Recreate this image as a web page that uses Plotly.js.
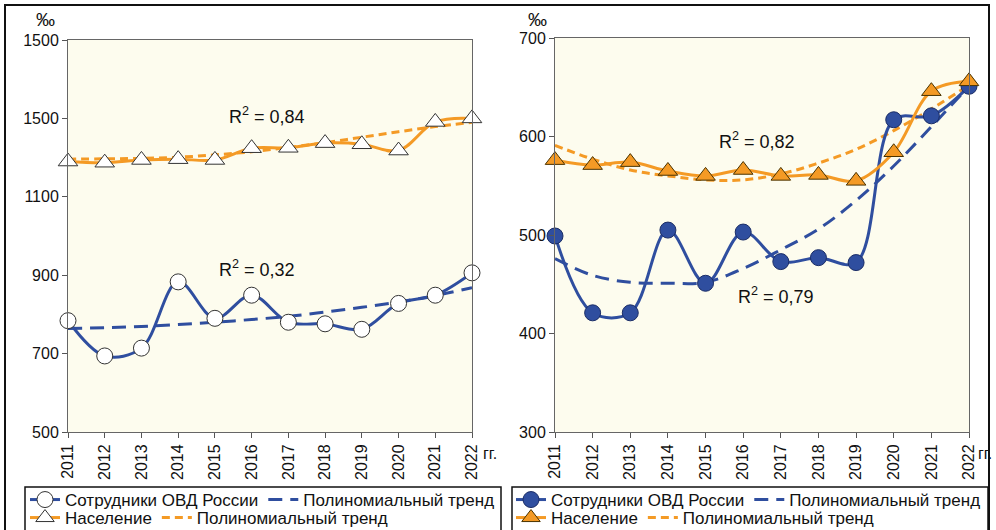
<!DOCTYPE html>
<html><head><meta charset="utf-8">
<script src="https://cdn.plot.ly/plotly-3.0.1.min.js"></script>
<style>html,body{margin:0;padding:0;background:#fff}#chart{width:996px;height:530px}</style>
</head><body><div id="chart"></div>
<script>
const years = [2011,2012,2013,2014,2015,2016,2017,2018,2019,2020,2021,2022];
// Left panel
const leftStaff      = [784,694,714,883,790,849,780,776,762,828,849,906];
const leftStaffTrend = [764,766,769,774,780,787,795,806,818,832,848,868];
const leftPop        = [1190,1187,1194,1196,1194,1224,1225,1237,1234,1218,1291,1300];
const leftPopTrend   = [1196,1197,1198,1201,1207,1215,1226,1238,1252,1266,1279,1290];
const leftTickVals   = [500,700,900,1100,1300,1500];
const leftTickText   = ['500','700','900','1100','1500','1500'];
// Right panel
const rightStaff      = [499,421,421,505,451,503,473,477,472,617,621,651];
const rightStaffTrend = [476,459,452,451,452,466,485,506,535,570,610,651];
const rightPop        = [576,571,574,565,560,566,560,561,555,584,646,656];
const rightPopTrend   = [591,577,566,560,556,556,562,573,587,606,628,652];
const rightTickVals   = [300,400,500,600,700];

const staffName = 'Сотрудники ОВД России';
const popName = 'Население';
const trendName = 'Полиномиальный тренд';

const BLUE = '#2f4e9f';
const ORANGE = '#f49a25';
const W = 996, H = 530;
const px = v => v / W;
const py = v => (H - v) / H;

function trend(y, xa, ya, color, dash, leg) {
  return {x: years, y: y, xaxis: xa, yaxis: ya, mode: 'lines', name: trendName, legendrank: 2,
    line: {color: color, width: 3, dash: dash, shape: 'spline'}, legend: leg, hoverinfo: 'skip'};
}
function series(y, xa, ya, color, marker, leg, name) {
  return {x: years, y: y, xaxis: xa, yaxis: ya, mode: 'lines+markers', name: name, legendrank: 1,
    line: {color: color, width: 3, shape: 'spline', smoothing: 1}, marker: marker,
    legend: leg, cliponaxis: false};
}

const data = [
  trend(leftStaffTrend, 'x', 'y', BLUE, '14px,8px', 'legend'),
  trend(leftPopTrend, 'x', 'y', ORANGE, '8px,5px', 'legend3'),
  series(leftStaff, 'x', 'y', BLUE, {symbol: 'circle', size: 16, color: '#ffffff', line: {color: '#333', width: 1}}, 'legend', staffName),
  series(leftPop, 'x', 'y', ORANGE, {symbol: 'triangle-up', size: 17, color: '#ffffff', line: {color: '#333', width: 1}}, 'legend3', popName),
  trend(rightStaffTrend, 'x2', 'y2', BLUE, '14px,8px', 'legend2'),
  trend(rightPopTrend, 'x2', 'y2', ORANGE, '8px,5px', 'legend4'),
  series(rightStaff, 'x2', 'y2', BLUE, {symbol: 'circle', size: 16, color: BLUE, line: {color: '#1b2d66', width: 1}}, 'legend2', staffName),
  series(rightPop, 'x2', 'y2', ORANGE, {symbol: 'triangle-up', size: 17, color: ORANGE, line: {color: '#4a3300', width: 1}}, 'legend4', popName)
];

const FAM = 'Liberation Sans, Arial, sans-serif';
const axFont = {family: FAM, size: 16, color: '#111'};
function xaxis(domain, anchor) {
  return {domain: domain, anchor: anchor, range: [2011, 2022], tickmode: 'array', tickvals: years,
    ticktext: years.map(String), tickangle: -90, ticks: 'outside', ticklen: 5, tickcolor: '#555',
    showline: true, linecolor: '#666', linewidth: 1, mirror: true, showgrid: false, zeroline: false,
    tickfont: axFont, fixedrange: true, automargin: false};
}
function yaxis(domain, anchor, range, vals, text) {
  return {domain: domain, anchor: anchor, range: range, tickmode: 'array', tickvals: vals, ticktext: text,
    ticks: 'outside', ticklen: 5, tickcolor: '#555', showline: true, linecolor: '#666', linewidth: 1,
    mirror: true, showgrid: false, zeroline: false, tickfont: axFont, fixedrange: true, automargin: false};
}
const legFont = {family: FAM, size: 17, color: '#111'};
function leg(x, y) {
  return {x: px(x), y: py(y), xanchor: 'left', yanchor: 'top', orientation: 'h', bgcolor: 'rgba(0,0,0,0)',
    borderwidth: 0, font: legFont, traceorder: 'normal', itemclick: false, itemdoubleclick: false};
}
function ann(text, x, y, size) {
  return {text: text, xref: 'paper', yref: 'paper', x: px(x), y: py(y), showarrow: false,
    xanchor: 'center', yanchor: 'middle', font: {family: FAM, size: size || 18, color: '#111'}};
}

const layout = {
  width: W, height: H, margin: {l: 0, r: 0, t: 0, b: 0, pad: 0, autoexpand: false},
  paper_bgcolor: '#ffffff', plot_bgcolor: '#fdfcee', showlegend: true,
  xaxis: xaxis([px(68), px(472)], 'y'),
  yaxis: yaxis([py(432), py(40)], 'x', [500, 1500], leftTickVals, leftTickText),
  xaxis2: xaxis([px(555), px(969)], 'y2'),
  yaxis2: yaxis([py(432), py(38)], 'x2', [300, 700], rightTickVals, rightTickVals.map(String)),
  legend: leg(25, 482),
  legend2: leg(511, 482),
  legend3: leg(25, 500),
  legend4: leg(511, 500),
  annotations: [
    ann('R<sup>2</sup> = 0,84', 267, 116),
    ann('R<sup>2</sup> = 0,32', 257, 268),
    ann('R<sup>2</sup> = 0,82', 757, 140),
    ann('R<sup>2</sup> = 0,79', 776, 295),
    ann('‰', 45, 20, 19),
    ann('‰', 537, 20, 19),
    ann('гг.', 490, 453, 16),
    ann('гг.', 985, 453, 16)
  ],
  shapes: [
    {type: 'rect', xref: 'paper', yref: 'paper', x0: px(5), x1: px(989), y0: py(535), y1: py(5),
      line: {color: '#111', width: 2}},
    {type: 'rect', xref: 'paper', yref: 'paper', x0: px(25), x1: px(501), y0: py(535), y1: py(487),
      line: {color: '#111', width: 1.5}},
    {type: 'rect', xref: 'paper', yref: 'paper', x0: px(512), x1: px(988), y0: py(535), y1: py(487),
      line: {color: '#111', width: 1.5}}
  ]
};
Plotly.newPlot('chart', data, layout, {displayModeBar: false, staticPlot: true});
</script></body></html>
